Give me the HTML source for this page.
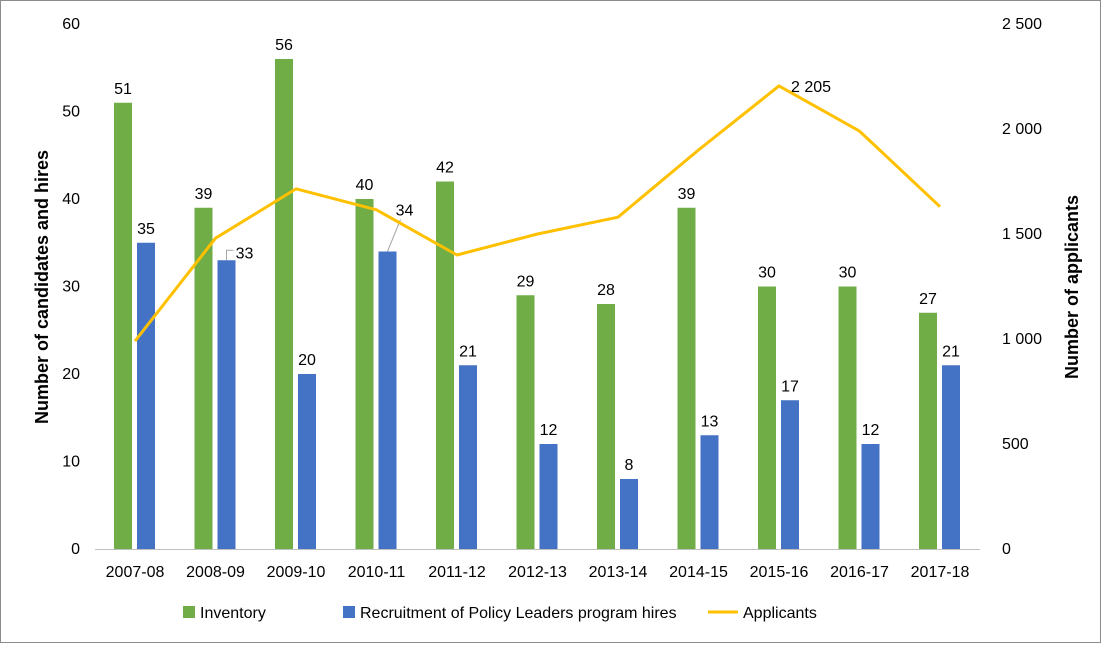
<!DOCTYPE html>
<html><head><meta charset="utf-8"><style>
body{margin:0;background:#fff;}
svg text{font-family:"Liberation Sans",Arial,sans-serif;fill:#000;}
</style></head><body>
<svg id="chart" width="1101" height="643">
<rect x="0.5" y="0.5" width="1100" height="642" fill="#fff" stroke="#8c8c8c"/>
<g id="marks"></g>
<text x="0" y="0" transform="translate(48,287) rotate(-90)" text-anchor="middle" font-size="18" font-weight="bold">Number of candidates and hires</text>
<text x="0" y="0" transform="translate(1078,287) rotate(-90)" text-anchor="middle" font-size="18" font-weight="bold">Number of applicants</text>
<g>
<rect x="183" y="606" width="12" height="12" fill="#70AD47"/>
<text x="200" y="618" font-size="16">Inventory</text>
<rect x="343" y="606" width="12" height="12" fill="#4472C4"/>
<text x="360" y="618" font-size="16">Recruitment of Policy Leaders program hires</text>
<line x1="708" y1="612" x2="738" y2="612" stroke="#FFC000" stroke-width="3"/>
<text x="743" y="618" font-size="16">Applicants</text>
</g>
</svg>
<script>
const categories=["2007-08","2008-09","2009-10","2010-11","2011-12","2012-13","2013-14","2014-15","2015-16","2016-17","2017-18"];
const inventory=[51,39,56,40,42,29,28,39,30,30,27];
const hires=[35,33,20,34,21,12,8,13,17,12,21];
const applicants=[990,1480,1715,1615,1400,1500,1580,1900,2205,1990,1630];
const leftTicks=[0,10,20,30,40,50,60];
const rightTicks=[0,500,1000,1500,2000,2500];
const rightTickLabels=["0","500","1 000","1 500","2 000","2 500"];

const NS="http://www.w3.org/2000/svg";
const g=document.getElementById("marks");
const y0=549,yTop=24;
const yL=v=>y0-(v/60)*(y0-yTop);
const yR=v=>y0-(v/2500)*(y0-yTop);
const xC=i=>135+i*80.5;
function mk(tag,attrs,txt){const e=document.createElementNS(NS,tag);for(const k in attrs)e.setAttribute(k,attrs[k]);if(txt!==undefined)e.textContent=txt;g.appendChild(e);return e;}

leftTicks.forEach(t=>{const e=mk("text",{x:80,y:yL(t)+5,"text-anchor":"end","font-size":"16"},t);

});
rightTicks.forEach((t,i)=>{const e=mk("text",{x:1002,y:yR(t)+5,"font-size":"16"},rightTickLabels[i]);

});

categories.forEach((c,i)=>{
 const x=xC(i);
 const b1=mk("rect",{x:x-21,y:yL(inventory[i]),width:18,height:y0-yL(inventory[i]),fill:"#70AD47"});
 
 
 const b2=mk("rect",{x:x+2,y:yL(hires[i]),width:18,height:y0-yL(hires[i]),fill:"#4472C4"});
 
 
 const l1=mk("text",{x:x-12,y:yL(inventory[i])-9,"text-anchor":"middle","font-size":"16"},inventory[i]);
 
 
 let hx=x+11,hy=yL(hires[i])-9;
 if(i===1){hx=x+29;hy=yL(hires[i])-2;mk("polyline",{points:`${x+11},${yL(hires[i])} ${x+11},${yL(hires[i])-10} ${x+18},${yL(hires[i])-10}`,fill:"none",stroke:"#a6a6a6"});}
 if(i===3){hx=x+28;hy=yL(hires[i])-36;mk("line",{x1:x+11,y1:yL(hires[i]),x2:x+24,y2:yL(hires[i])-32,stroke:"#a6a6a6"});}
 const l2=mk("text",{x:hx,y:hy,"text-anchor":"middle","font-size":"16"},hires[i]);
 
 
 const tl=mk("text",{x:x,y:577,"text-anchor":"middle","font-size":"16"},c);
 
 
});
const ax=mk("line",{x1:95,y1:y0+0.5,x2:980,y2:y0+0.5,stroke:"#bfbfbf"});


const pl=mk("polyline",{points:applicants.map((v,i)=>xC(i)+","+yR(v)).join(" "),fill:"none",stroke:"#FFC000","stroke-width":"3","stroke-linejoin":"round"});


const mi=applicants.indexOf(Math.max(...applicants));
const ml=mk("text",{x:xC(mi)+12,y:yR(applicants[mi])+6,"font-size":"16"},applicants[mi].toString().replace(/\B(?=(\d{3})+(?!\d))/g," "));


</script>
</body></html>
